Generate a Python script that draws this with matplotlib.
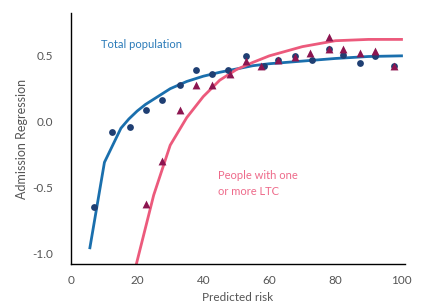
import numpy as np
import matplotlib
matplotlib.use("Agg")
import matplotlib.pyplot as plt

plt.rcParams['font.family'] = ['Lato', 'DejaVu Sans']

# Observed points, total population (circles)
total_x = [7.0, 12.3, 17.8, 22.7, 27.6, 32.9, 37.8, 42.6, 47.5, 52.9,
           58.5, 62.5, 67.8, 72.8, 78.2, 82.4, 87.5, 92.1, 97.8]
total_y = [-0.65, -0.08, -0.04, 0.09, 0.165, 0.28, 0.39, 0.365, 0.395, 0.50,
           0.42, 0.47, 0.50, 0.47, 0.55, 0.51, 0.445, 0.495, 0.42]

# Observed points, people with one or more LTC (triangles)
ltc_x = [22.7, 27.6, 32.9, 37.8, 42.6, 48.0, 52.9, 57.5, 62.5, 67.8,
         72.2, 78.0, 78.0, 82.4, 87.5, 92.1, 97.8]
ltc_y = [-0.63, -0.30, 0.09, 0.28, 0.28, 0.365, 0.46, 0.42, 0.47, 0.49,
         0.52, 0.645, 0.55, 0.55, 0.525, 0.54, 0.42]

# Fitted curves
fit_total_x = [5.7, 10.1, 15.1, 17.5, 20, 22.5, 25, 27.5, 30, 35, 40, 45, 50,
               55, 60, 70, 80, 90, 100]
fit_total_y = [-0.96, -0.31, -0.05, 0.02, 0.08, 0.13, 0.17, 0.21, 0.25, 0.305,
               0.345, 0.375, 0.40, 0.425, 0.44, 0.46, 0.48, 0.495, 0.50]

fit_ltc_x = [19.6, 25, 30, 35, 40, 45, 50, 55, 60, 70, 80, 90, 100]
fit_ltc_y = [-1.10, -0.56, -0.18, 0.03, 0.19, 0.315, 0.395, 0.45, 0.50, 0.57,
             0.615, 0.625, 0.625]

fig = plt.figure(figsize=(4.23, 3.06), dpi=100)
ax = fig.add_axes([0.168, 0.137, 0.789, 0.821])

ax.plot(fit_total_x, fit_total_y, color='#1a6fad', linewidth=2, zorder=2)
ax.plot(fit_ltc_x, fit_ltc_y, color='#ec5a7c', linewidth=2, zorder=2)
ax.scatter(total_x, total_y, s=24, color='#1f3f73', marker='o', zorder=3, linewidths=0)
ax.scatter(ltc_x, ltc_y, s=32, color='#8c1550', marker='^', zorder=4, linewidths=0)

ax.text(9.0, 0.585, "Total population", color='#2a7ab8', fontsize=8, va='center')
ax.text(44.4, -0.47, "People with one\nor more LTC", color='#ee6a8a', fontsize=8,
        va='center', linespacing=1.5)

ax.set_xlim(0, 101)
ax.set_ylim(-1.084, 0.827)
ax.set_xticks([0, 20, 40, 60, 80, 100])
ax.set_yticks([-1.0, -0.5, 0.0, 0.5])
ax.set_yticklabels(['-1.0', '-0.5', '0.0', '0.5'])
ax.tick_params(length=0, labelsize=8.5, colors='#555555')
ax.tick_params(axis='x', pad=8)
ax.tick_params(axis='y', pad=13)
ax.set_xlabel("Predicted risk", fontsize=8.5, color='#555555')
ax.set_ylabel("Admission Regression", fontsize=9, color='#555555')
ax.xaxis.set_label_coords(0.5, -0.11)
ax.yaxis.set_label_coords(-0.13, 0.5)
for side in ['top', 'right']:
    ax.spines[side].set_visible(False)
for side in ['left', 'bottom']:
    ax.spines[side].set_color('black')
    ax.spines[side].set_linewidth(1)

fig.savefig("out.png", dpi=100)
